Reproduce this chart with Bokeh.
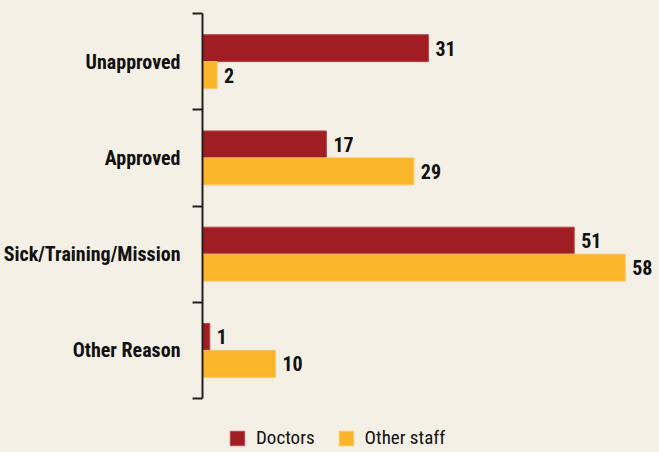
from bokeh.plotting import figure
from bokeh.models import Range1d, FixedTicker, Legend, LegendItem
from bokeh.embed import file_html
from bokeh.resources import INLINE
from bokeh.core.properties import value

categories = ["Unapproved", "Approved", "Sick/Training/Mission", "Other Reason"]
doctors = [31, 17, 51, 1]
other_staff = [2, 29, 58, 10]
series_names = ["Doctors", "Other staff"]

BG = "#F4F0E5"
RED = "#A01E23"
ORANGE = "#FBB52B"
INK = "#231F20"
FONT = "'Roboto Condensed', 'DejaVu Sans Condensed', 'Liberation Sans Narrow', 'Liberation Sans', sans-serif"

n = len(categories)
centers = [i + 0.5 for i in range(n)]
bounds = [float(i) for i in range(n + 1)]
y_doc = [c - 0.14 for c in centers]
y_oth = [c + 0.14 for c in centers]

# frame extends to the bottom of the figure; the axis is bounded to the categories
p = figure(width=659, height=452, output_backend="svg", toolbar_location=None,
           x_range=Range1d(0, 62.7), y_range=Range1d(4.561, 0),
           min_border_left=0, min_border_right=0, min_border_top=13,
           min_border_bottom=0)
p.background_fill_color = BG
p.border_fill_color = BG
p.outline_line_color = None
p.xgrid.visible = False
p.ygrid.visible = False
p.xaxis.visible = False

ax = p.yaxis[0]
ax.bounds = (0, n)
ax.ticker = FixedTicker(ticks=centers, minor_ticks=bounds)
ax.major_label_overrides = {c: name for c, name in zip(centers, categories)}
ax.major_tick_out = 0
ax.major_tick_in = 0
ax.minor_tick_out = 10
ax.minor_tick_in = 0
ax.minor_tick_line_width = 2
ax.minor_tick_line_color = INK
ax.axis_line_width = 2
ax.axis_line_color = INK
ax.major_label_standoff = 12
ax.major_label_text_font = FONT
ax.major_label_text_font_style = "bold"
ax.major_label_text_font_size = "20px"
ax.major_label_text_color = "#111111"

r1 = p.hbar(y=y_doc, left=0, right=doctors, height=0.28, fill_color=RED,
            line_color="#B8474B", line_width=1)
r2 = p.hbar(y=y_oth, left=0, right=other_staff, height=0.28, fill_color=ORANGE,
            line_color="#FCC45A", line_width=1)

for vals, ys in ((doctors, y_doc), (other_staff, y_oth)):
    p.text(x=vals, y=ys, text=[str(v) for v in vals], x_offset=7,
           text_baseline="middle", text_align="left",
           text_font=value(FONT), text_font_style="bold",
           text_font_size="20px", text_color="#111111")

legend = Legend(items=[LegendItem(label=series_names[0], renderers=[r1]),
                       LegendItem(label=series_names[1], renderers=[r2])],
                orientation="horizontal", location=(26, 3))
legend.background_fill_alpha = 0
legend.border_line_alpha = 0
legend.glyph_width = 18
legend.glyph_height = 18
legend.label_height = 18
legend.label_standoff = 10
legend.spacing = 22
legend.padding = 0
legend.margin = 0
legend.label_text_font = FONT
legend.label_text_font_size = "19px"
legend.label_text_color = "#111111"
p.add_layout(legend, "center")

html = file_html(p, INLINE)
html = html.replace("</head>", "<style>body{background:%s;}</style></head>" % BG, 1)
open("out.html", "w").write(html)
